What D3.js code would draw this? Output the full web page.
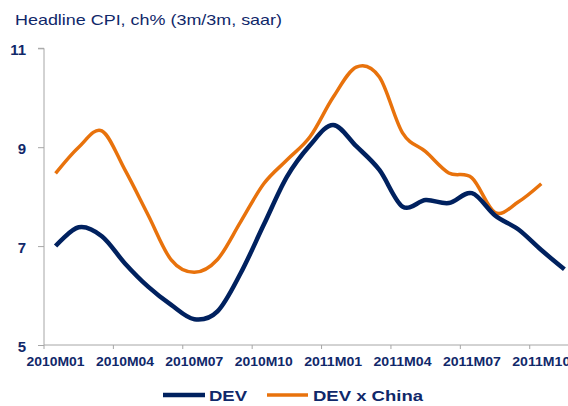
<!DOCTYPE html>
<html>
<head>
<meta charset="utf-8">
<script src="https://cdn.jsdelivr.net/npm/d3@7"></script>
<style>
  html, body { margin: 0; padding: 0; background: #fff; }
  svg { display: block; }
  text { font-family: "Liberation Sans", Arial, sans-serif; }
</style>
</head>
<body>
<svg id="chart" width="568" height="406"></svg>
<script>
const months = ["2010M01","2010M02","2010M03","2010M04","2010M05","2010M06","2010M07","2010M08","2010M09","2010M10","2010M11","2010M12",
                "2011M01","2011M02","2011M03","2011M04","2011M05","2011M06","2011M07","2011M08","2011M09","2011M10","2011M11"];
const dev = [7.0, 7.38, 7.2, 6.65, 6.18, 5.81, 5.52, 5.68, 6.45, 7.43, 8.40, 9.04,
             9.45, 9.02, 8.54, 7.80, 7.93, 7.87, 8.07, 7.62, 7.34, 6.92, 6.53];
const devXChina = [8.47, 9.0, 9.33, 8.54, 7.63, 6.72, 6.47, 6.73, 7.49, 8.26, 8.74, 9.21,
                   10.01, 10.62, 10.42, 9.29, 8.91, 8.48, 8.38, 7.68, 7.89, 8.26];
const xTickLabels = ["2010M01","2010M04","2010M07","2010M10","2011M01","2011M04","2011M07","2011M10"];
const yTicks = [5, 7, 9, 11];
const seriesNames = ["DEV", "DEV x China"];

const NAVY = "#00215f";
const TEXT = "#10286a";
const ORANGE = "#e8720c";
const AXIS = "#a6a6a6";

const svg = d3.select("#chart");
const plotLeft = 44, plotBottom = 345, plotTop = 48.3;
const step = 23.13;

const x = d3.scaleBand().domain(months).range([plotLeft, plotLeft + months.length * step]).padding(0);
const y = d3.scaleLinear().domain([5, 11]).range([plotBottom, plotTop]);
const cx = m => x(m) + x.bandwidth() / 2;

// Title
svg.append("text")
  .attr("x", 15).attr("y", 25)
  .attr("font-size", 14.5)
  .attr("fill", TEXT)
  .attr("textLength", 267).attr("lengthAdjust", "spacingAndGlyphs")
  .text("Headline CPI, ch% (3m/3m, saar)");

// Y axis
const yAxis = svg.append("g")
  .attr("transform", `translate(${plotLeft},0)`)
  .call(d3.axisLeft(y).tickValues(yTicks).tickSize(6).tickPadding(12).tickFormat(d3.format("d")));
yAxis.select(".domain").attr("stroke", AXIS).attr("d", `M-6,${y(11)}H0V${plotBottom}`);
yAxis.selectAll(".tick line").attr("stroke", AXIS);
yAxis.selectAll(".tick text")
  .attr("fill", TEXT).attr("font-size", 15).attr("font-weight", "bold")
  .attr("font-family", "Liberation Sans, Arial, sans-serif")
  .attr("dy", "0.4em");

// X axis line
svg.append("line")
  .attr("x1", plotLeft).attr("x2", 568)
  .attr("y1", plotBottom).attr("y2", plotBottom)
  .attr("stroke", AXIS);

// X ticks at category boundaries every 3 months
svg.selectAll(".xtick")
  .data(xTickLabels)
  .join("line")
  .attr("class", "xtick")
  .attr("x1", d => x(d)).attr("x2", d => x(d))
  .attr("y1", plotBottom).attr("y2", plotBottom + 4)
  .attr("stroke", AXIS);

// X labels centered on categories
svg.selectAll(".xlabel")
  .data(xTickLabels)
  .join("text")
  .attr("class", "xlabel")
  .attr("x", d => cx(d) - 29)
  .attr("y", 366)
  .attr("font-size", 12.5).attr("font-weight", "bold")
  .attr("fill", TEXT)
  .attr("textLength", 58).attr("lengthAdjust", "spacingAndGlyphs")
  .text(d => d);

// Lines
const line = d3.line()
  .x(d => cx(d.m))
  .y(d => y(d.v))
  .curve(d3.curveCardinal.tension(0));

const devData = dev.map((v, i) => ({ m: months[i], v }));
const chinaData = devXChina.map((v, i) => ({ m: months[i], v }));

svg.append("path")
  .datum(chinaData)
  .attr("d", line)
  .attr("fill", "none")
  .attr("stroke", ORANGE)
  .attr("stroke-width", 3.5);

svg.append("path")
  .datum(devData)
  .attr("d", line)
  .attr("fill", "none")
  .attr("stroke", NAVY)
  .attr("stroke-width", 4.5);

// Legend
const legend = [
  { name: seriesNames[0], color: NAVY, w: 4.5, x1: 163, x2: 205, tx: 209, tl: 38 },
  { name: seriesNames[1], color: ORANGE, w: 3.5, x1: 267, x2: 308, tx: 313, tl: 110 }
];
const lg = svg.append("g");
lg.selectAll("line")
  .data(legend)
  .join("line")
  .attr("x1", d => d.x1).attr("x2", d => d.x2)
  .attr("y1", 395).attr("y2", 395)
  .attr("stroke", d => d.color)
  .attr("stroke-width", d => d.w);
lg.selectAll("text")
  .data(legend)
  .join("text")
  .attr("x", d => d.tx).attr("y", 401)
  .attr("font-size", 15.5).attr("font-weight", "bold")
  .attr("fill", TEXT)
  .attr("textLength", d => d.tl).attr("lengthAdjust", "spacingAndGlyphs")
  .text(d => d.name);
</script>
</body>
</html>
